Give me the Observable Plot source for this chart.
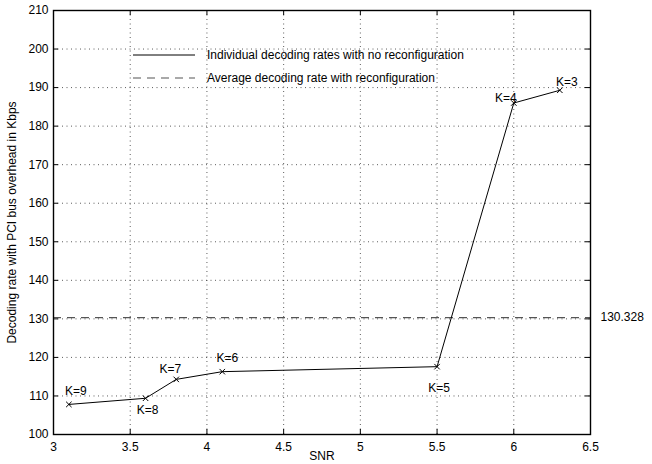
<!DOCTYPE html>
<html>
<head>
<meta charset="utf-8">
<script src="https://cdn.jsdelivr.net/npm/d3@7"></script>
<script src="https://cdn.jsdelivr.net/npm/@observablehq/plot@0.6"></script>
<style>
  html, body { margin: 0; padding: 0; background: #fff; }
  #wrap { position: relative; width: 652px; height: 464px; font-family: "Liberation Sans", Arial, sans-serif; }
  #legend { position: absolute; left: 0; top: 0; pointer-events: none; }
</style>
</head>
<body>
<div id="wrap"></div>
<script>
const snr = [3.1, 3.6, 3.8, 4.1, 5.5, 6.0, 6.3];
const rate = [107.8, 109.4, 114.3, 116.3, 117.6, 186.0, 189.3];
const kLabels = ["K=9", "K=8", "K=7", "K=6", "K=5", "K=4", "K=3"];
const avgRate = 130.328;
const xTicks = [3, 3.5, 4, 4.5, 5, 5.5, 6, 6.5];
const yTicks = [100, 110, 120, 130, 140, 150, 160, 170, 180, 190, 200, 210];
const legendLabels = ["Individual decoding rates with no reconfiguration", "Average decoding rate with reconfiguration"];

const data = snr.map((x, i) => ({x, y: rate[i], k: kLabels[i]}));
const W = 652, H = 464, mL = 53, mR = 62, mT = 10, mB = 30;
const ph = H - mT - mB, pw = W - mL - mR;
const FS = 12;
const font = {fontFamily: "Liberation Sans, Arial, sans-serif", fontSize: FS};
const lab = (names, opts) => Plot.text(data.filter(d => names.includes(d.k)), {x: "x", y: "y", text: "k", fill: "black", fontSize: FS, ...opts});

const chart = Plot.plot({
  width: W, height: H,
  marginLeft: mL, marginRight: mR, marginTop: mT, marginBottom: mB,
  style: {...font, background: "white", color: "black"},
  x: {domain: [3, 6.5], ticks: xTicks, label: null},
  y: {domain: [100, 210], ticks: yTicks, label: null},
  marks: [
    Plot.gridX(xTicks, {stroke: "#333", strokeOpacity: 1, strokeDasharray: "1,3.5", strokeWidth: 0.8}),
    Plot.gridY(yTicks, {stroke: "#333", strokeOpacity: 1, strokeDasharray: "1,3.5", strokeWidth: 0.8}),
    Plot.gridX(xTicks, {stroke: "black", strokeOpacity: 1, insetTop: ph - 5}),
    Plot.gridX(xTicks, {stroke: "black", strokeOpacity: 1, insetBottom: ph - 5}),
    Plot.gridY(yTicks, {stroke: "black", strokeOpacity: 1, insetRight: pw - 5}),
    Plot.gridY(yTicks, {stroke: "black", strokeOpacity: 1, insetLeft: pw - 5}),
    Plot.axisX(xTicks, {anchor: "bottom", tickSize: 0, tickPadding: 8, fontSize: FS, label: null, tickFormat: d => String(d)}),
    Plot.axisY(yTicks, {anchor: "left", tickSize: 0, tickPadding: 5, fontSize: FS, label: null}),
    Plot.ruleY([avgRate], {stroke: "#555", strokeWidth: 1.2, strokeDasharray: "8,6"}),
    Plot.text([avgRate], {y: d => d, frameAnchor: "right", dx: 10, textAnchor: "start", text: () => String(avgRate), fill: "black", fontSize: FS}),
    Plot.line(data, {x: "x", y: "y", stroke: "black", strokeWidth: 1}),
    Plot.dot(data, {x: "x", y: "y", symbol: "times", r: 2.6, stroke: "black", strokeWidth: 1}),
    lab(["K=9"], {dx: 7, dy: -13}),
    lab(["K=8"], {dx: 2, dy: 12}),
    lab(["K=7"], {dx: -6, dy: -10}),
    lab(["K=6"], {dx: 5, dy: -14}),
    lab(["K=5"], {dx: 2, dy: 21}),
    lab(["K=4"], {dx: -8, dy: -5}),
    lab(["K=3"], {dx: 7, dy: -8}),
    Plot.frame({stroke: "black", strokeWidth: 1.4}),
    Plot.text(["SNR"], {frameAnchor: "bottom", dy: 25, text: d => d, fill: "black", fontSize: FS}),
    Plot.text(["Decoding rate with PCI bus overhead in Kbps"], {frameAnchor: "left", textAnchor: "middle", dx: -41, rotate: -90, text: d => d, fill: "black", fontSize: FS})
  ]
});
const wrap = document.getElementById("wrap");
wrap.appendChild(chart);

// legend overlay
const svg = d3.select(wrap).append("svg").attr("id", "legend").attr("width", W).attr("height", H);
const dashes = [null, "8,6"];
legendLabels.forEach((t, i) => {
  const y = 55 + i * 23;
  svg.append("line").attr("x1", 133).attr("x2", 195).attr("y1", y).attr("y2", y)
    .attr("stroke", i === 0 ? "black" : "#555").attr("stroke-width", i === 0 ? 1 : 1.2)
    .attr("stroke-dasharray", dashes[i]);
  svg.append("text").attr("x", 207).attr("y", y).attr("dy", "0.35em")
    .attr("font-family", "Liberation Sans, Arial, sans-serif").attr("font-size", FS).text(t);
});
</script>
</body>
</html>
